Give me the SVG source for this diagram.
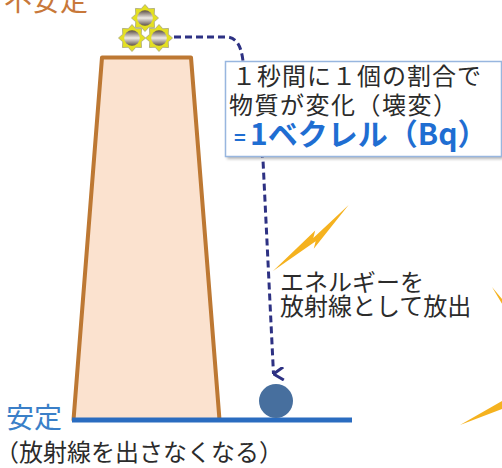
<svg xmlns="http://www.w3.org/2000/svg" xmlns:xlink="http://www.w3.org/1999/xlink" width="502" height="468" viewBox="0 0 502 468">
  <style>
    .jp { font-family: "Noto Sans CJK JP", "Noto Sans", sans-serif; }
    .unstable { fill: #c8783a; font-size: 28px; }
    .stable { fill: #3a7fc8; font-size: 28px; }
    .dark { fill: #2b2b2b; font-size: 24px; }
    .bq { fill: #1f6ed2; font-weight: bold; }
    .decay { fill: none; stroke: #2d3183; stroke-width: 3; stroke-dasharray: 7 4; }
    .bolt { fill: #f5b21f; }
  </style>
  <defs>
    <linearGradient id="ballShade" x1="0" y1="0" x2="0" y2="1">
      <stop offset="0" stop-color="#5a4c40"/>
      <stop offset="0.5" stop-color="#efebe6"/>
      <stop offset="1" stop-color="#5f5247"/>
    </linearGradient>
    <filter id="soft" x="-10%" y="-10%" width="120%" height="130%">
      <feGaussianBlur stdDeviation="1.5"/>
    </filter>
    <!-- unstable nucleus: yellow eight-point star round a metallic ball -->
    <g id="nuclide">
      <polygon points="0,-13.5 3.83,-9.24 9.55,-9.55 9.24,-3.83 13.5,0 9.24,3.83 9.55,9.55 3.83,9.24 0,13.5 -3.83,9.24 -9.55,9.55 -9.24,3.83 -13.5,0 -9.24,-3.83 -9.55,-9.55 -3.83,-9.24" fill="#e4e022" stroke="#a7a47a" stroke-width="0.8"/>
      <circle r="7.8" fill="url(#ballShade)"/>
    </g>
    <!-- lightning bolt, tip at origin, pointing along +x -->
    <path id="bolt" class="bolt" d="M0,0 L58,-8 L52,-3 L100,-9 L46,6 L52,1 Z"/>
    <marker id="chevron" viewBox="0 0 14 12" refX="7" refY="11" markerWidth="14" markerHeight="12" markerUnits="userSpaceOnUse" orient="auto-start-reverse">
      <polyline points="0.5,1 7,11 13.5,1" fill="none" stroke="#2d3183" stroke-width="3"/>
    </marker>
  </defs>

  <rect width="502" height="468" fill="#ffffff"/>

  <!-- energy barrier -->
  <g id="barrier">
    <polygon points="102,57.5 191,57.5 219.5,420 73.5,420" fill="#fbe2cf" stroke="#bd7833" stroke-width="4" stroke-linejoin="round"/>
  </g>

  <!-- ground level -->
  <g id="ground">
    <line x1="72" y1="420" x2="352" y2="420" stroke="#2a6cc0" stroke-width="5"/>
  </g>

  <!-- radiation -->
  <g id="rays">
    <use xlink:href="#bolt" transform="translate(273,271) rotate(-36)"/>
    <use xlink:href="#bolt" transform="translate(492,287) rotate(58)"/>
    <use xlink:href="#bolt" transform="translate(460,425) rotate(-22)"/>
  </g>

  <g id="connectors">
    <path class="decay" d="M174,37 H226 C236,37 241,45 243,61 L263,160 L273.5,374" marker-end="url(#chevron)"/>
  </g>

  <!-- unstable nuclei on top of the barrier -->
  <g id="unstable-nuclei">
    <use xlink:href="#nuclide" transform="translate(145,18)"/>
    <use xlink:href="#nuclide" transform="translate(132,38)"/>
    <use xlink:href="#nuclide" transform="translate(159,38)"/>
  </g>

  <!-- stable nucleus -->
  <g id="stable-nucleus">
    <circle cx="276" cy="401" r="17" fill="#476f9e"/>
  </g>

  <!-- becquerel definition box -->
  <g id="becquerel-box">
    <rect x="227" y="64" width="276" height="95" fill="#7a7a7a" opacity="0.55" filter="url(#soft)"/>
    <rect x="225.5" y="61.5" width="276" height="95" fill="#ffffff" stroke="#98b6df" stroke-width="1.5"/>
    <text class="jp dark" x="232" y="85" font-size="23" letter-spacing="1">１秒間に１個の割合で</text>
    <text class="jp dark" x="229" y="114" font-size="23" letter-spacing="1.5">物質が変化（壊変）</text>
    <text class="jp bq" x="234" y="145"><tspan font-size="20">=</tspan><tspan x="250" font-size="30">1ベクレル（Bq）</tspan></text>
  </g>

  <!-- labels -->
  <g id="label-unstable">
    <text class="jp unstable" x="4" y="11">不安定</text>
  </g>
  <g id="label-emission">
    <text class="jp dark" x="280" y="291">エネルギーを</text>
    <text class="jp dark" x="280" y="315">放射線として放出</text>
  </g>
  <g id="label-stable">
    <text class="jp stable" x="6" y="428">安定</text>
    <text class="jp dark" x="-5" y="461">（放射線を出さなくなる）</text>
  </g>
</svg>
